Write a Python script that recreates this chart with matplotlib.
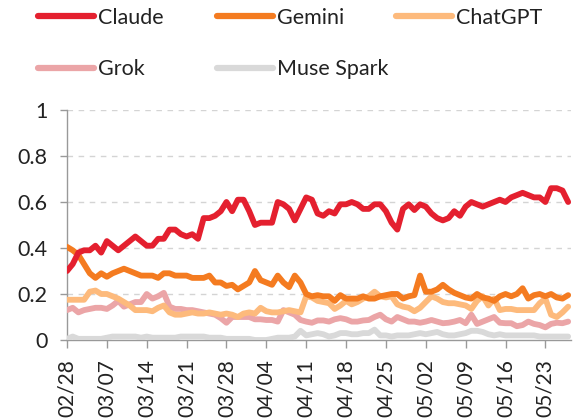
import matplotlib
matplotlib.use('Agg')
import matplotlib.pyplot as plt
from matplotlib.lines import Line2D

plt.rcParams['font.family'] = ['Lato', 'DejaVu Sans']

TICK_LABELS = [
    '02/28', '03/07', '03/14', '03/21', '03/28', '04/04', '04/11',
    '04/18', '04/25', '05/02', '05/09', '05/16', '05/23',
]

# daily share, 02/28 .. 05/27
claude = [
    0.30, 0.33, 0.38, 0.39, 0.39, 0.41, 0.38, 0.43, 0.41, 0.39,
    0.41, 0.43, 0.45, 0.43, 0.41, 0.41, 0.44, 0.44, 0.48, 0.48,
    0.46, 0.45, 0.46, 0.44, 0.53, 0.53, 0.54, 0.56, 0.60, 0.56,
    0.61, 0.61, 0.56, 0.50, 0.51, 0.51, 0.51, 0.60, 0.59, 0.57,
    0.52, 0.57, 0.62, 0.61, 0.55, 0.54, 0.56, 0.55, 0.59, 0.59,
    0.60, 0.59, 0.57, 0.57, 0.59, 0.59, 0.56, 0.51, 0.48, 0.57,
    0.59, 0.565, 0.59, 0.58, 0.55, 0.53, 0.52, 0.53, 0.56, 0.54,
    0.58, 0.60, 0.59, 0.58, 0.59, 0.60, 0.61, 0.60, 0.62, 0.63,
    0.64, 0.63, 0.62, 0.62, 0.60, 0.66, 0.66, 0.65, 0.60,
]
gemini = [
    0.405, 0.39, 0.37, 0.33, 0.29, 0.27, 0.29, 0.275, 0.29, 0.30,
    0.31, 0.30, 0.29, 0.28, 0.28, 0.28, 0.27, 0.29, 0.29, 0.28,
    0.28, 0.28, 0.27, 0.27, 0.27, 0.28, 0.25, 0.25, 0.235, 0.24,
    0.22, 0.235, 0.25, 0.30, 0.26, 0.25, 0.24, 0.28, 0.25, 0.23,
    0.28, 0.25, 0.20, 0.19, 0.195, 0.19, 0.19, 0.17, 0.195, 0.18,
    0.18, 0.18, 0.19, 0.18, 0.18, 0.19, 0.195, 0.20, 0.20, 0.18,
    0.19, 0.195, 0.28, 0.21, 0.21, 0.22, 0.24, 0.22, 0.205, 0.195,
    0.185, 0.18, 0.20, 0.185, 0.18, 0.17, 0.19, 0.20, 0.19, 0.20,
    0.225, 0.18, 0.195, 0.20, 0.19, 0.20, 0.185, 0.18, 0.195,
]
chatgpt = [
    0.175, 0.175, 0.175, 0.175, 0.21, 0.215, 0.20, 0.20, 0.19, 0.18,
    0.165, 0.15, 0.13, 0.13, 0.13, 0.125, 0.14, 0.15, 0.12, 0.11,
    0.11, 0.115, 0.12, 0.115, 0.115, 0.12, 0.115, 0.11, 0.115, 0.11,
    0.10, 0.115, 0.12, 0.115, 0.14, 0.125, 0.12, 0.12, 0.125, 0.13,
    0.125, 0.12, 0.19, 0.185, 0.17, 0.165, 0.16, 0.135, 0.15, 0.17,
    0.155, 0.165, 0.18, 0.19, 0.21, 0.19, 0.185, 0.19, 0.155, 0.145,
    0.14, 0.125, 0.14, 0.165, 0.19, 0.18, 0.165, 0.16, 0.16, 0.155,
    0.15, 0.135, 0.17, 0.19, 0.15, 0.18, 0.13, 0.135, 0.135, 0.13,
    0.13, 0.13, 0.13, 0.16, 0.18, 0.11, 0.10, 0.12, 0.145,
]
grok = [
    0.13, 0.14, 0.12, 0.13, 0.135, 0.14, 0.14, 0.135, 0.15, 0.17,
    0.145, 0.155, 0.165, 0.165, 0.20, 0.18, 0.19, 0.205, 0.145, 0.135,
    0.135, 0.13, 0.13, 0.125, 0.12, 0.115, 0.11, 0.095, 0.075, 0.10,
    0.10, 0.10, 0.10, 0.09, 0.09, 0.087, 0.087, 0.08, 0.13, 0.12,
    0.11, 0.087, 0.08, 0.075, 0.085, 0.085, 0.08, 0.09, 0.095, 0.09,
    0.08, 0.08, 0.085, 0.087, 0.10, 0.11, 0.09, 0.08, 0.10, 0.09,
    0.08, 0.08, 0.075, 0.08, 0.087, 0.08, 0.073, 0.075, 0.08, 0.087,
    0.073, 0.11, 0.07, 0.08, 0.09, 0.10, 0.075, 0.073, 0.073, 0.06,
    0.065, 0.08, 0.07, 0.065, 0.055, 0.07, 0.075, 0.073, 0.08,
]
muse_spark = [
    0.005, 0.015, 0.005, 0.005, 0.005, 0.005, 0.005, 0.01, 0.015, 0.015,
    0.015, 0.015, 0.015, 0.01, 0.015, 0.01, 0.01, 0.01, 0.01, 0.01,
    0.015, 0.015, 0.015, 0.015, 0.015, 0.01, 0.01, 0.01, 0.005, 0.005,
    0.005, 0.005, 0.005, 0.0, 0.0, 0.0, 0.005, 0.01, 0.01, 0.01,
    0.015, 0.04, 0.02, 0.025, 0.03, 0.025, 0.015, 0.02, 0.03, 0.03,
    0.025, 0.025, 0.03, 0.03, 0.045, 0.02, 0.02, 0.015, 0.02, 0.02,
    0.02, 0.025, 0.03, 0.025, 0.03, 0.035, 0.025, 0.02, 0.02, 0.025,
    0.03, 0.04, 0.04, 0.035, 0.025, 0.02, 0.025, 0.02, 0.02, 0.02,
    0.02, 0.02, 0.02, 0.015, 0.015, 0.015, 0.015, 0.015, 0.015,
]

SERIES = [
    ('Claude', claude, '#e4202f'),
    ('Gemini', gemini, '#f47b20'),
    ('ChatGPT', chatgpt, '#fdba7c'),
    ('Grok', grok, '#eba5a7'),
    ('Muse Spark', muse_spark, '#d9d9d9'),
]

W, H = 578, 419
fig = plt.figure(figsize=(W / 100, H / 100), dpi=100)
ax = fig.add_axes([67 / W, 1 - 340 / H, (571 - 67) / W, (340 - 110) / H])

x = list(range(len(claude)))
for z, (name, y, color) in enumerate(SERIES):
    ax.plot(x, y, color=color, lw=4.2, solid_joinstyle='round',
            solid_capstyle='round', zorder=10 - z)

ax.set_xlim(0, len(claude) - 0.5)
ax.set_ylim(0, 1)
ax.set_xticks(range(0, len(claude), 7))
ax.set_xticklabels(TICK_LABELS, rotation=90)
ax.set_yticks([0, 0.2, 0.4, 0.6, 0.8, 1])
ax.set_yticklabels(['0', '0.2', '0.4', '0.6', '0.8', '1'])

for yv in [0.2, 0.4, 0.6, 0.8, 1.0]:
    ax.axhline(yv, color='#d4d4d4', lw=1, dashes=(4, 4), zorder=0)

for side in ['top', 'right']:
    ax.spines[side].set_visible(False)
for side in ['left', 'bottom']:
    ax.spines[side].set_color('#999999')
    ax.spines[side].set_linewidth(1)
ax.tick_params(axis='x', length=6, width=1, color='#999999', pad=8,
               labelsize=15, labelcolor='#222222')
ax.tick_params(axis='y', length=5, width=1, color='#999999', pad=9,
               labelsize=15.5, labelcolor='#222222')

# legend: three columns at fixed positions
columns = [(38, ['Claude', 'Grok']), (217, ['Gemini', 'Muse Spark']),
           (396, ['ChatGPT'])]
colors = {name: color for name, _, color in SERIES}
for left, names in columns:
    handles = [Line2D([], [], color=colors[n], lw=4.5,
                      solid_capstyle='round') for n in names]
    fig.legend(handles, names, loc='upper left',
               bbox_to_anchor=(left / W, 1 - 8 / H), frameon=False,
               fontsize=15.5, handlelength=2.6, handletextpad=0.2,
               labelspacing=1.45, borderpad=0, borderaxespad=0,
               labelcolor='#222222')

fig.savefig('out.png', dpi=100)
